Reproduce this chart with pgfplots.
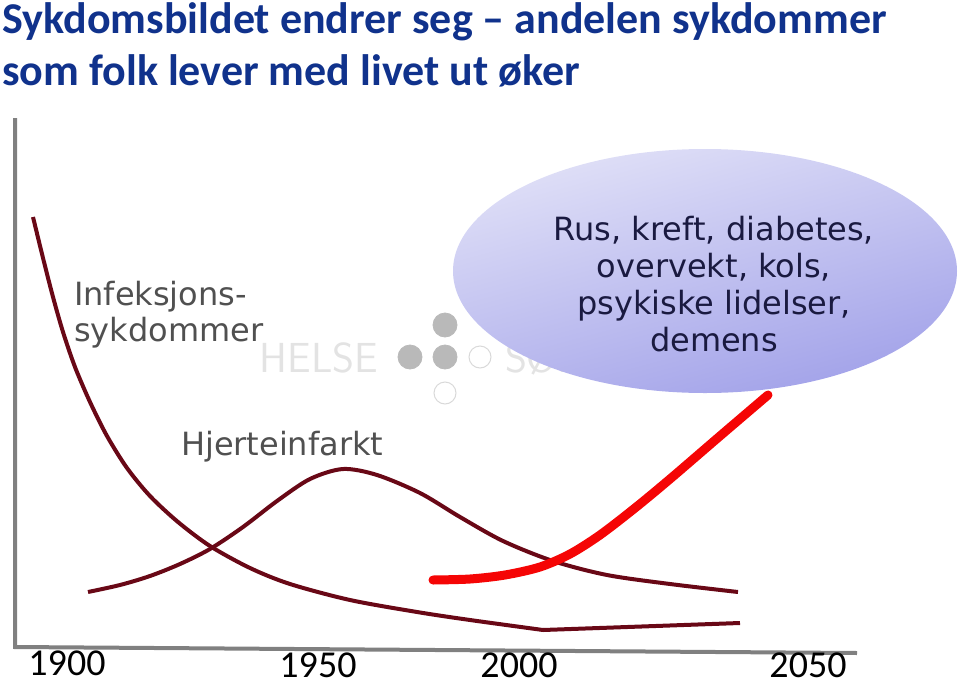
\documentclass[border=0pt]{standalone}
\usepackage{pgfplots}
\pgfplotsset{compat=1.18}
\usepackage{fontspec}
\setmainfont{DejaVu Sans}
\newfontfamily\calib{Carlito}
\definecolor{titleblue}{RGB}{16,50,140}
\definecolor{maroon}{RGB}{105,8,22}
\definecolor{brightred}{RGB}{245,5,5}
\definecolor{axgray}{RGB}{128,128,128}
\definecolor{labgray}{RGB}{80,80,80}
\definecolor{navytxt}{RGB}{26,26,64}
\definecolor{elltop}{RGB}{224,224,247}
\definecolor{ellbot}{RGB}{162,162,233}
\begin{document}
\begin{tikzpicture}
\begin{axis}[
  scale only axis, width=479.5pt, height=343pt,
  xmin=0, xmax=959, ymin=0, ymax=686, y dir=reverse,
  hide axis, clip=false]
% watermark
\node[anchor=center, text=gray!22, font=\fontsize{21}{21}\selectfont\sffamily] at (axis cs:319,358) {HELSE};
\node[anchor=west, text=gray!22, font=\fontsize{21}{21}\selectfont\sffamily] at (axis cs:498,358) {SØR};
\addplot[only marks, mark=*, mark size=6pt, color=gray!55, mark options={draw=gray!55,fill=gray!55}] coordinates {(445,325) (410,357) (445,357)};
\addplot[only marks, mark=o, mark size=5.5pt, color=gray!30, mark options={line width=0.5pt}] coordinates {(480,357) (445,393)};
% ellipse
\shade[top color=elltop, bottom color=ellbot, shading angle=15] (axis cs:705,271) ellipse [x radius=126pt, y radius=61pt];
\node[align=center, text=navytxt, font=\fontsize{16}{18.5}\selectfont] at (axis cs:714,284) {Rus, kreft, diabetes,\\overvekt, kols,\\psykiske lidelser,\\demens};
% axis lines
\addplot[axgray, line width=2pt] coordinates {(15,118) (15,647) (857,653)};
% curves
\addplot[maroon, line width=2pt, smooth, line join=round] coordinates {(33,217) (43,258) (53,297) (63,332) (75,367) (90,402) (107,436) (127,468) (150,496) (178,522) (210,546) (250,568) (290,584) (350,600) (417,612) (470,620) (543,630)};
\addplot[maroon, line width=2pt] coordinates {(543,630) (740,623)};
\addplot[maroon, line width=2pt, smooth, line join=round] coordinates {(88,592) (120,585) (150,576) (180,564) (210,549) (243,527) (277,501) (310,479) (343,469) (377,475) (420,493) (460,517) (503,541) (553,561) (607,575) (670,584) (738,592)};
\addplot[brightred, line width=4.5pt, smooth, line cap=round, line join=round] coordinates {(433,580) (470,579) (505,575) (540,567) (570,554) (600,535) (635,508) (670,479) (720,436) (768,395)};
% labels
\node[anchor=west, align=left, text=labgray, font=\fontsize{16}{18}\selectfont] at (axis cs:67,315) {Infeksjons-\\sykdommer};
\node[anchor=west, text=labgray, font=\fontsize{16}{18}\selectfont] at (axis cs:174,447) {Hjerteinfarkt};
% ticks
\node[font=\calib\fontsize{19}{19}\selectfont] at (axis cs:67,663) {1900};
\node[font=\calib\fontsize{19}{19}\selectfont] at (axis cs:318,665) {1950};
\node[font=\calib\fontsize{19}{19}\selectfont] at (axis cs:519,665) {2000};
\node[font=\calib\fontsize{19}{19}\selectfont] at (axis cs:808,665) {2050};
% title
\node[anchor=base west, inner sep=0pt, text=titleblue, font=\calib\bfseries\fontsize{22}{22}\selectfont] at (axis cs:2,33) {Sykdomsbildet endrer seg – andelen sykdommer};
\node[anchor=base west, inner sep=0pt, text=titleblue, font=\calib\bfseries\fontsize{22}{22}\selectfont] at (axis cs:2,85) {som folk lever med livet ut øker};
\end{axis}
\pgfresetboundingbox
\path (0,0) rectangle (479.5pt,343pt);
\end{tikzpicture}
\end{document}
